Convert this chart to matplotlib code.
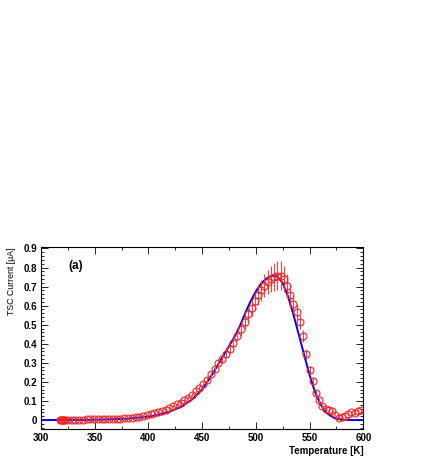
import matplotlib
matplotlib.use("Agg")
import matplotlib.pyplot as plt
from matplotlib.ticker import MultipleLocator

plt.rcParams['font.family'] = ['Liberation Sans', 'DejaVu Sans']

# Measured TSC data (red circles)
temp_data = [318, 318.8, 319.5, 320.3, 321, 322, 325, 328.5, 332, 335.5, 339, 342.5,
             346, 349.5, 353, 356.5, 360, 363.5, 367, 370.5, 374, 377.5, 381, 384.5,
             388, 391.5, 395, 398.5, 402, 405.5, 409, 412.5, 416, 419.5, 423, 426.5,
             430, 433.5, 437, 440.5, 444, 447.5, 451, 454.5, 458, 461.5, 465, 468.5,
             472, 475.5, 479, 482.5, 486, 489.5, 493, 496, 499, 502, 505, 508, 511,
             514, 517, 520, 523, 526, 529, 532, 535, 538, 541, 544, 547, 550, 553,
             556, 559, 562, 565, 568, 571, 574, 577, 580, 583, 586, 589, 592, 595, 598]
current_data = [0.0, 0.0, 0.0, 0.0, 0.0, 0.0, 0.001, 0.001, 0.002, 0.002, 0.002, 0.003,
                0.003, 0.003, 0.004, 0.004, 0.005, 0.005, 0.006, 0.007, 0.008, 0.009, 0.011, 0.013,
                0.015, 0.018, 0.021, 0.025, 0.030, 0.035, 0.041, 0.048, 0.055, 0.063, 0.072, 0.082,
                0.092, 0.103, 0.117, 0.133, 0.150, 0.167, 0.190, 0.212, 0.240, 0.268, 0.300, 0.318,
                0.348, 0.375, 0.405, 0.440, 0.475, 0.515, 0.555, 0.590, 0.625, 0.655, 0.680, 0.705, 0.725,
                0.740, 0.750, 0.757, 0.757, 0.740, 0.705, 0.655, 0.610, 0.565, 0.515, 0.440, 0.345, 0.262, 0.205,
                0.142, 0.105, 0.075, 0.058, 0.052, 0.050, 0.025, 0.010, 0.014, 0.022, 0.030, 0.042, 0.035, 0.045, 0.052]
current_err = [0.002, 0.002, 0.002, 0.002, 0.002, 0.002, 0.002, 0.002, 0.002, 0.002, 0.002, 0.002,
               0.002, 0.002, 0.002, 0.002, 0.002, 0.002, 0.002, 0.002, 0.002, 0.002, 0.003, 0.003,
               0.003, 0.003, 0.003, 0.004, 0.004, 0.004, 0.005, 0.005, 0.005, 0.006, 0.006, 0.007,
               0.007, 0.008, 0.008, 0.009, 0.010, 0.010, 0.011, 0.012, 0.013, 0.014, 0.015, 0.017,
               0.019, 0.022, 0.025, 0.028, 0.032, 0.036, 0.040, 0.044, 0.048, 0.052, 0.056, 0.060, 0.064,
               0.068, 0.072, 0.075, 0.075, 0.070, 0.062, 0.055, 0.048, 0.042, 0.036, 0.032, 0.028, 0.024, 0.020,
               0.016, 0.013, 0.010, 0.008, 0.007, 0.006, 0.005, 0.005, 0.005, 0.005, 0.005, 0.006, 0.006, 0.006, 0.006]

# Fit curve (blue line)
temp_fit = [300, 320, 340, 360, 380, 400, 410, 420, 430, 440, 450, 460, 470, 480, 485,
            490, 495, 500, 505, 510, 515, 520, 525, 530, 535, 540, 545, 550, 555, 560,
            565, 570, 575, 580, 585, 590, 600]
current_fit = [0.0, 0.0005, 0.001, 0.003, 0.007, 0.018, 0.028, 0.045, 0.068, 0.105, 0.160, 0.245,
               0.340, 0.435, 0.492, 0.560, 0.622, 0.675, 0.717, 0.743, 0.758, 0.752, 0.718, 0.648,
               0.552, 0.447, 0.340, 0.236, 0.148, 0.085, 0.042, 0.020, 0.008, 0.003, 0.001, 0.0, 0.0]

fig = plt.figure(figsize=(4.36, 4.63), dpi=100)
ax = fig.add_axes([0.094, 0.0734, 0.7393, 0.3925])

ax.plot(temp_fit, current_fit, color='#0000ff', lw=1.4, zorder=3)
ax.errorbar(temp_data, current_data, yerr=current_err, fmt='o', ms=5, mfc='none',
            mec='#ff2020', mew=0.8, ecolor='#ff4040', elinewidth=0.8, capsize=0, zorder=4)

ax.set_xlim(300, 600)
ax.set_ylim(-0.047, 0.906)
ax.xaxis.set_major_locator(MultipleLocator(50))
ax.xaxis.set_minor_locator(MultipleLocator(25))
ax.yaxis.set_major_locator(MultipleLocator(0.1))
ax.yaxis.set_minor_locator(MultipleLocator(0.02))
ax.set_yticks([0, 0.1, 0.2, 0.3, 0.4, 0.5, 0.6, 0.7, 0.8, 0.9])
ax.set_yticklabels(['0', '0.1', '0.2', '0.3', '0.4', '0.5', '0.6', '0.7', '0.8', '0.9'])
ax.tick_params(which='both', direction='in', top=True, right=True, labelsize=7, width=0.6)
ax.tick_params(which='major', length=5, pad=3)
ax.tick_params(which='minor', length=2.5)
for lab in ax.get_xticklabels() + ax.get_yticklabels():
    lab.set_fontweight('bold')
for s in ax.spines.values():
    s.set_linewidth(0.8)

ax.set_xlabel('Temperature [K]', fontsize=7, fontweight='bold', loc='right', labelpad=2)
ax.set_ylabel('TSC Current [μA]', fontsize=6.3, loc='top', labelpad=5)
ax.text(0.085, 0.93, '(a)', transform=ax.transAxes, fontsize=8.5, fontweight='bold',
        ha='left', va='top')

fig.savefig('out.png', dpi=100)
